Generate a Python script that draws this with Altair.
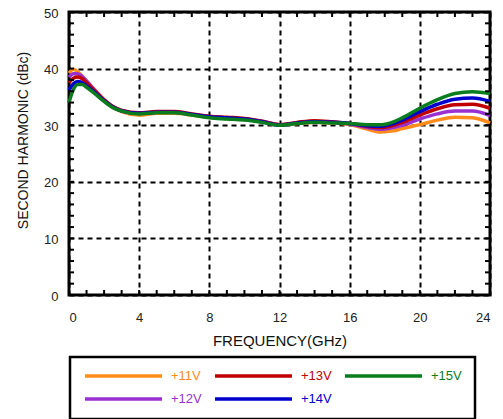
import altair as alt
import pandas as pd

# Frequency points (GHz)
freq = [0, 0.25, 0.5, 0.75, 1, 1.5, 2, 2.5, 3,
        4, 5, 6, 7, 8, 9, 10, 11, 12, 13, 14, 15, 16, 17,
        17.8, 18.5, 19,
        20, 21, 22, 23, 24]

# Second harmonic (dBc) per supply voltage
v11 = [39.2, 39.9, 39.4, 38.7, 37.8, 36.0, 34.4, 33.2, 32.4,
       31.8, 32.1, 32.1, 31.8, 31.4, 31.2, 31.0, 30.6, 30.1, 30.3, 30.5, 30.4, 30.1, 29.3,
       28.8, 29.0, 29.4,
       30.1, 30.9, 31.4, 31.3, 30.4]
v12 = [38.5, 39.1, 39.1, 38.6, 37.8, 36.1, 34.5, 33.3, 32.6,
       32.1, 32.3, 32.3, 31.9, 31.5, 31.3, 31.1, 30.7, 30.1, 30.4, 30.6, 30.5, 30.2, 29.6,
       29.3, 29.6, 30.0,
       31.1, 32.0, 32.5, 32.5, 31.7]
v13 = [37.5, 38.3, 38.5, 38.2, 37.5, 36.0, 34.5, 33.3, 32.6,
       32.2, 32.4, 32.4, 32.0, 31.6, 31.4, 31.2, 30.7, 30.1, 30.5, 30.8, 30.6, 30.3, 29.8,
       29.6, 30.0, 30.5,
       31.8, 32.9, 33.6, 33.7, 33.0]
v14 = [36.2, 37.3, 37.7, 37.5, 37.0, 35.7, 34.3, 33.2, 32.5,
       32.1, 32.3, 32.3, 31.9, 31.5, 31.3, 31.1, 30.6, 30.0, 30.4, 30.6, 30.5, 30.3, 29.9,
       29.8, 30.3, 30.9,
       32.4, 33.7, 34.6, 34.8, 34.2]
v15 = [34.0, 36.3, 37.2, 37.2, 36.7, 35.5, 34.2, 33.1, 32.5,
       32.0, 32.2, 32.2, 31.8, 31.3, 31.1, 30.9, 30.5, 30.0, 30.3, 30.5, 30.4, 30.3, 30.1,
       30.1, 30.6, 31.3,
       33.0, 34.5, 35.6, 35.9, 35.6]

series_names = ["+11V", "+12V", "+13V", "+14V", "+15V"]
series_values = [v11, v12, v13, v14, v15]
series_colors = ["#FF8C1A", "#9B30D0", "#C00000", "#0000CD", "#0A7D1E"]

x_major = [0, 4, 8, 12, 16, 20, 24]
y_major = [0, 10, 20, 30, 40, 50]
x_minor = list(range(0, 25))
y_minor = list(range(0, 51, 2))

rows = []
for name, vals in zip(series_names, series_values):
    for f, v in zip(freq, vals):
        rows.append({"f": f, "v": v, "s": name})
df = pd.DataFrame(rows)

W, H = 421, 283
FONT = "Liberation Sans"
TL = 5  # inner tick length

xscale = alt.Scale(domain=[0, 24], nice=False, zero=False)
yscale = alt.Scale(domain=[0, 50], nice=False, zero=False)

x_axis = alt.Axis(values=x_major, title="FREQUENCY(GHz)", grid=True, gridColor="black",
                  gridWidth=2, gridDash=[5, 4], ticks=False, tickSize=0, domain=False,
                  labelFont=FONT, labelFontSize=13, labelColor="#222222", labelPadding=22,
                  labelBaseline="middle", titleFont=FONT, titleFontSize=15,
                  titleFontWeight="normal", titleColor="#111111", titleY=45,
                  titleBaseline="middle")
y_axis = alt.Axis(values=y_major, title="SECOND HARMONIC (dBc)", grid=True, gridColor="black",
                  gridWidth=2, gridDash=[5, 4], ticks=False, tickSize=0, domain=False,
                  labelFont=FONT, labelFontSize=13, labelColor="#222222", labelPadding=11,
                  labelBaseline="middle", labelOffset=1, titleFont=FONT, titleFontSize=14,
                  titleFontWeight="normal", titleColor="#111111", titleAngle=270,
                  titleX=-46, titleY=128, titleBaseline="middle", titleAlign="center")

legend = alt.Legend(orient="none", legendX=1, legendY=345, columns=3, title=None,
                    symbolType="stroke", symbolSize=5929, symbolStrokeWidth=3.5,
                    clipHeight=12, rowPadding=10, columnPadding=11, padding=13,
                    labelOffset=7, labelFont=FONT, labelFontSize=13, strokeColor="black",
                    labelColor=alt.ExprRef("scale('color', datum.value)"))

lines = alt.Chart(df).mark_line(strokeWidth=3.5, interpolate="monotone").encode(
    x=alt.X("f:Q", scale=xscale, axis=x_axis),
    y=alt.Y("v:Q", scale=yscale, axis=y_axis),
    color=alt.Color("s:N", scale=alt.Scale(domain=series_names, range=series_colors), legend=legend),
)

xt = pd.DataFrame({"f": x_minor})
yt = pd.DataFrame({"v": y_minor})
tick_style = dict(color="black", strokeWidth=2)

bottom_ticks = alt.Chart(xt).mark_rule(**tick_style).encode(
    x=alt.X("f:Q", scale=xscale), y=alt.value(H), y2=alt.value(H - TL))
top_ticks = alt.Chart(xt).mark_rule(**tick_style).encode(
    x=alt.X("f:Q", scale=xscale), y=alt.value(0), y2=alt.value(TL))
left_ticks = alt.Chart(yt).mark_rule(**tick_style).encode(
    y=alt.Y("v:Q", scale=yscale), x=alt.value(0), x2=alt.value(TL))
right_ticks = alt.Chart(yt).mark_rule(**tick_style).encode(
    y=alt.Y("v:Q", scale=yscale), x=alt.value(W), x2=alt.value(W - TL))

chart = alt.layer(lines, bottom_ticks, top_ticks, left_ticks, right_ticks).properties(
    width=W, height=H, autosize="none",
    padding={"left": 61, "top": 4, "right": 5, "bottom": 124},
    background="white",
).configure_view(stroke="black", strokeWidth=3).configure_legend(strokeWidth=2.5)

chart.save("out.html", embed_options={"renderer": "svg", "actions": False})
